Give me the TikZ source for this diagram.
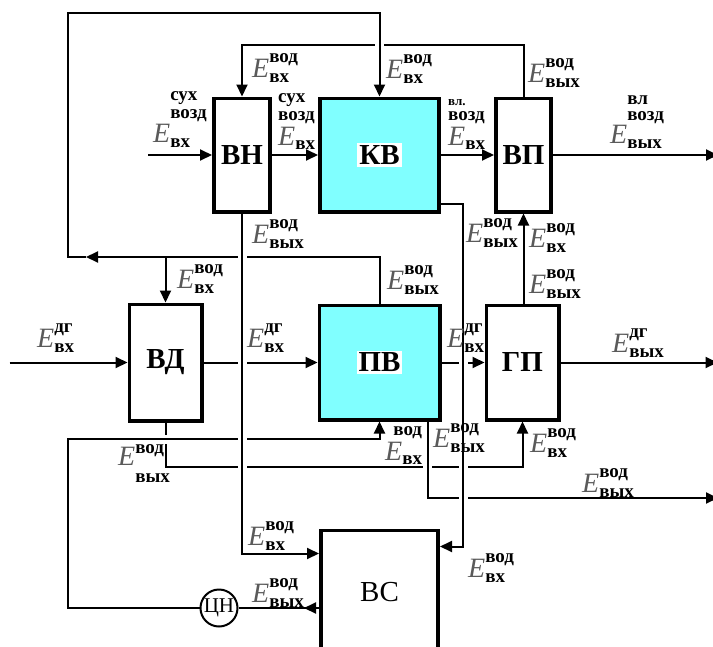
\documentclass[tikz,border=0pt]{standalone}
\usepackage{xcolor}
\usepackage{fontspec}
\setmainfont{Liberation Serif}
\usetikzlibrary{positioning,arrows.meta,backgrounds}

\definecolor{boxcyan}{RGB}{128,255,255}
\definecolor{egray}{RGB}{90,90,90}

\newcommand{\scr}{\fontsize{19}{19}\bfseries\selectfont}
\newcommand{\En}[3][4pt]{\textcolor{egray}{\textit{E}}\raisebox{-5pt}{\scr\shortstack[l]{#2\\[#1]#3}}}
\newcommand{\Eb}[1]{\textcolor{egray}{\textit{E}}\raisebox{-4pt}{\scr #1}}
\newcommand{\hl}[1]{{\setlength{\fboxsep}{2pt}\colorbox{white}{#1}}}

\begin{document}
\begin{tikzpicture}[x=1pt,y=-1pt,
    blk/.style={draw, line width=3.6pt, inner sep=2pt, minimum height=113.4pt, font=\fontsize{29}{30}\bfseries\selectfont},
    wire/.style={line width=2pt},
    arr/.style={-{Triangle[length=12pt,width=11pt]}},
    halo/.style={preaction={draw,white,line width=9pt,-}},
    lbl/.style={anchor=base west, inner sep=0pt, font=\fontsize{28}{30}\selectfont}]

        \useasboundingbox (0,0) rectangle (713,646);

        \node (vn) [blk, minimum width=56.4pt] at (242,155) {ВН};
        \node (kv) [blk, minimum width=119.4pt, fill=boxcyan, right=46pt of vn] {\hl{КВ}};
        \node (vp) [blk, minimum width=55.4pt, right=53pt of kv] {ВП};
        \node (pv) [blk, minimum width=120.4pt, minimum height=114.4pt, fill=boxcyan, below=90pt of kv] {\hl{ПВ}};
        \node (vd) [blk, minimum width=72.4pt, minimum height=116.4pt, left=114pt of pv] {ВД};
        \node (gp) [blk, minimum width=72.4pt, minimum height=114.4pt, right=43pt of pv] {ГП};
        \node (vs) [blk, minimum width=117.4pt, minimum height=124pt, below=107pt of pv, font=\fontsize{29}{30}\selectfont] {ВС};
        \node (cn) [draw, circle, line width=2pt, minimum size=37pt, inner sep=0pt, font=\fontsize{21}{21}\selectfont] at (219,608) {ЦН};

        \begin{pgfonlayer}{background}
        \path (vn.west) ++(-64,0) coordinate (airIn);
        \path (vp.east) ++(165,0) coordinate (airOut);
        \path (vd.west) ++(-118,0) coordinate (gasIn);
        \path (gp.east) ++(157,0) coordinate (gasOut);
        \coordinate (waterOut) at (718,498);
        \coordinate (topL) at (68,13);
        \coordinate (midL) at (68,257);
        \coordinate (arrL) at (86,257);
        \coordinate (lowL) at (68,439);
        \coordinate (rowA) at (0,45);
        \coordinate (rowB) at (0,467);

        \foreach \i/\j in {airIn/vn, vn/kv, kv/vp, vp/airOut, gasIn/vd, vd/pv, pv/gp, gp/gasOut} {
            \draw[wire, arr] (\i) -- (\j);
        }
        \draw[wire, arr] (vp.north) -- (vp.north |- rowA) -- (vn.north |- rowA) -- (vn.north);
        \draw[wire, arr] (vd.south) |- (gp.south |- rowB) -- (gp.south);
        \draw[wire, halo, arr] (cn.west) -| (lowL) -| (pv.south);
        \draw[wire, halo, arr] ([xshift=48pt]pv.south) |- (waterOut);
        \draw[wire, halo, arr] (pv.north) |- (arrL);
        \draw[wire, halo, arr] (arrL) -- (midL) -- (topL) -| (kv.north);
        \draw[wire, arr] (vd.north |- midL) -- (vd.north);
        \draw[wire, halo, arr] (vn.south) |- ([yshift=-25pt]vs.north west);
        \draw[wire, halo, arr] ([yshift=10pt]kv.south east) -| ([xshift=23pt,yshift=-18pt]vs.north east) -- ([yshift=-18pt]vs.north east);
        \draw[wire, arr] (vp.south |- gp.north) -- (vp.south);
        \draw[wire] (cn.east) -- (vs.west |- cn);
        \draw[wire, arr] (vs.west |- cn) -- ++(-15,0);
        \end{pgfonlayer}

        \node (eAirIn) [lbl] at (153,142) {\En[13pt]{сух\\[2pt]возд}{вх}};
        \node (eAirKv) [lbl] at (278,145) {\shortstack[l]{{\scr сух}\\[2pt]{\scr возд}\\\Eb{вх}}};
        \node (eAirVp) [lbl] at (448,145) {\shortstack[l]{{\fontsize{13}{13}\bfseries\selectfont вл.}\\[3pt]{\scr возд}\\\Eb{вх}}};
        \node (eAirOut) [lbl] at (610,143) {\En[12pt]{вл\\[4pt]возд}{вых}};
        \node (eVnTop) [lbl] at (252,77) {\En{вод}{вх}};
        \node (eKvTop) [lbl] at (386,78) {\En{вод}{вх}};
        \node (eVpTop) [lbl] at (528,82) {\En{вод}{вых}};
        \node (eVnBot) [lbl] at (252,243) {\En{вод}{вых}};
        \node (eKvOut) [lbl] at (466,242) {\En{вод}{вых}};
        \node (eVpBot) [lbl] at (529,247) {\En{вод}{вх}};
        \node (eGpTop) [lbl] at (529,293) {\En{вод}{вых}};
        \node (eVdTop) [lbl] at (177,288) {\En{вод}{вх}};
        \node (ePvTop) [lbl] at (387,289) {\En{вод}{вых}};
        \node (eGasIn) [lbl] at (37,347) {\En{дг}{вх}};
        \node (eGasPv) [lbl] at (247,347) {\En{дг}{вх}};
        \node (eGasGp) [lbl] at (447,347) {\En{дг}{вх}};
        \node (eGasOut) [lbl] at (612,352) {\En{дг}{вых}};
        \node (eVdBot) [lbl] at (118,465) {\textcolor{egray}{\textit{E}}\raisebox{-17pt}{\scr\shortstack[l]{вод\\[13pt]вых}}};
        \node (ePvIn) [lbl] at (385,460) {\shortstack[r]{{\scr вод}\\\Eb{вх}}};
        \node (ePvOut) [lbl] at (433,447) {\En{вод}{вых}};
        \node (eGpBot) [lbl] at (530,452) {\En{вод}{вх}};
        \node (eWaterOut) [lbl] at (582,492) {\En{вод}{вых}};
        \node (eVsIn) [lbl] at (248,545) {\En{вод}{вх}};
        \node (eVsInR) [lbl] at (468,577) {\En{вод}{вх}};
        \node (eVsOut) [lbl] at (252,602) {\En{вод}{вых}};
    \end{tikzpicture}
\end{document}
